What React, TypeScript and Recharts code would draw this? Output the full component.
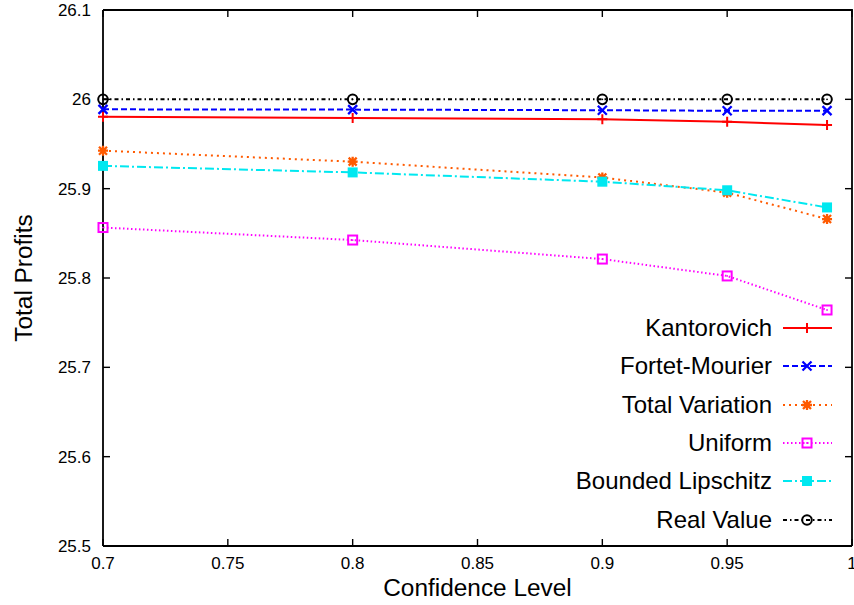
import React from "react";
import { LineChart, Line, XAxis, YAxis, Legend } from "recharts";

const levels = [0.7, 0.8, 0.9, 0.95, 0.99];
const kantorovich = [25.9805, 25.9792, 25.9776, 25.9748, 25.9712];
const fortetMourier = [25.9888, 25.9885, 25.9878, 25.9872, 25.9873];
const totalVariation = [25.9425, 25.9302, 25.9125, 25.8955, 25.8660];
const uniform = [25.8565, 25.8425, 25.8212, 25.8023, 25.7642];
const boundedLipschitz = [25.9255, 25.9182, 25.9078, 25.8982, 25.8790];
const realValue = [26.0, 26.0, 26.0, 26.0, 26.0];

const xTicks = [0.7, 0.75, 0.8, 0.85, 0.9, 0.95, 1];
const yTicks = [25.5, 25.6, 25.7, 25.8, 25.9, 26.0, 26.1];
const xDomain = [0.7, 1];
const yDomain = [25.5, 26.1];

// chart box
const W = 854;
const H = 605;
const Y_AXIS_W = 103;
const X_AXIS_H = 59;
const MARGIN = { top: 10, right: 2, bottom: 0, left: 0 };
const PLOT = {
  left: MARGIN.left + Y_AXIS_W,
  top: MARGIN.top,
  right: W - MARGIN.right,
  bottom: H - MARGIN.bottom - X_AXIS_H,
};
const TICK = 7;

type Kind = "plus" | "cross" | "star" | "box" | "filled" | "circle";

const SERIES: { key: string; name: string; color: string; dash?: string; kind: Kind }[] = [
  { key: "kant", name: "Kantorovich", color: "#ff0000", kind: "plus" },
  { key: "fm", name: "Fortet-Mourier", color: "#0000ff", dash: "6 3", kind: "cross" },
  { key: "tv", name: "Total Variation", color: "#ff5a00", dash: "2 4", kind: "star" },
  { key: "uni", name: "Uniform", color: "#ff00ff", dash: "1.5 2.5", kind: "box" },
  { key: "bl", name: "Bounded Lipschitz", color: "#00e8f0", dash: "9 3 2 3", kind: "filled" },
  { key: "real", name: "Real Value", color: "#000000", dash: "4 3 1.5 3", kind: "circle" },
];

const data = levels.map((x, i) => ({
  x,
  kant: kantorovich[i],
  fm: fortetMourier[i],
  tv: totalVariation[i],
  uni: uniform[i],
  bl: boundedLipschitz[i],
  real: realValue[i],
}));

function Marker({ kind, cx, cy, color }: { kind: Kind; cx: number; cy: number; color: string }) {
  const s = 5;
  const sw = 2;
  switch (kind) {
    case "plus":
      return <path d={`M${cx - s},${cy}H${cx + s}M${cx},${cy - s}V${cy + s}`} stroke={color} strokeWidth={sw} fill="none" />;
    case "cross":
      return (
        <path
          d={`M${cx - 4.5},${cy - 4.5}L${cx + 4.5},${cy + 4.5}M${cx + 4.5},${cy - 4.5}L${cx - 4.5},${cy + 4.5}`}
          stroke={color}
          strokeWidth={sw + 0.3}
          fill="none"
        />
      );
    case "star":
      return (
        <path
          d={`M${cx - s},${cy}H${cx + s}M${cx},${cy - s}V${cy + s}M${cx - 4},${cy - 4}L${cx + 4},${cy + 4}M${cx + 4},${cy - 4}L${cx - 4},${cy + 4}`}
          stroke={color}
          strokeWidth={sw + 0.3}
          fill="none"
        />
      );
    case "box":
      return (
        <g>
          <rect x={cx - 4.5} y={cy - 4.5} width={9} height={9} stroke={color} strokeWidth={sw} fill="none" />
          <circle cx={cx} cy={cy} r={0.9} fill={color} />
        </g>
      );
    case "filled":
      return <rect x={cx - 5} y={cy - 5} width={10} height={10} fill={color} />;
    case "circle":
      return (
        <g>
          <circle cx={cx} cy={cy} r={4.8} stroke={color} strokeWidth={sw} fill="none" />
          <circle cx={cx} cy={cy} r={0.9} fill={color} />
        </g>
      );
  }
  return null;
}

const fmt = (v: number) => String(parseFloat(v.toFixed(2)));

function LeftTick({ x = 0, y = 0, payload }: any) {
  return (
    <g>
      <line x1={x} y1={y} x2={x + TICK} y2={y} stroke="#000" strokeWidth={1.4} />
      <text x={x - 12} y={y + 6} textAnchor="end" fontSize={17} fill="#000">
        {fmt(payload?.value)}
      </text>
    </g>
  );
}

function BottomTick({ x = 0, y = 0, payload }: any) {
  return (
    <g>
      <line x1={x} y1={y} x2={x} y2={y - TICK} stroke="#000" strokeWidth={1.4} />
      <text x={x} y={y + 23} textAnchor="middle" fontSize={17} fill="#000">
        {fmt(payload?.value)}
      </text>
    </g>
  );
}

// top and right sides of the gnuplot-style box, with mirrored tick marks
function FrameOverlay() {
  const sx = (v: number) => PLOT.left + ((v - xDomain[0]) / (xDomain[1] - xDomain[0])) * (PLOT.right - PLOT.left);
  const sy = (v: number) => PLOT.bottom - ((v - yDomain[0]) / (yDomain[1] - yDomain[0])) * (PLOT.bottom - PLOT.top);
  return (
    <svg width={W} height={H} style={{ position: "absolute", left: 0, top: 0, pointerEvents: "none" }}>
      <path
        d={`M${PLOT.left},${PLOT.top}H${PLOT.right}V${PLOT.bottom}`}
        stroke="#000"
        strokeWidth={1.8}
        fill="none"
      />
      {xTicks.map((t) => (
        <line key={`x${t}`} x1={sx(t)} y1={PLOT.top} x2={sx(t)} y2={PLOT.top + TICK} stroke="#000" strokeWidth={1.4} />
      ))}
      {yTicks.map((t) => (
        <line key={`y${t}`} x1={PLOT.right} y1={sy(t)} x2={PLOT.right - TICK} y2={sy(t)} stroke="#000" strokeWidth={1.4} />
      ))}
    </svg>
  );
}

function LegendBox() {
  return (
    <div style={{ width: 354 }}>
      {SERIES.map((s) => (
        <div key={s.key} style={{ display: "flex", alignItems: "center", height: 38.3 }}>
          <div style={{ width: 272, textAlign: "right", fontSize: 24, color: "#000", lineHeight: "38px", whiteSpace: "nowrap" }}>
            {s.name}
          </div>
          <svg width={60} height={20} style={{ marginLeft: 11 }}>
            <line x1={0} y1={10} x2={49} y2={10} stroke={s.color} strokeWidth={2} strokeDasharray={s.dash} />
            <Marker kind={s.kind} cx={24} cy={10} color={s.color} />
          </svg>
        </div>
      ))}
    </div>
  );
}

const axisLine = { stroke: "#000", strokeWidth: 1.8 };

export default function App() {
  return (
    <div
      style={{
        position: "absolute",
        left: 0,
        top: 0,
        width: W,
        height: H,
        background: "#fff",
        fontFamily: "'Liberation Sans', Arial, sans-serif",
      }}
    >
      <LineChart width={W} height={H} data={data} margin={MARGIN}>
        <XAxis
          dataKey="x"
          type="number"
          domain={xDomain}
          ticks={xTicks}
          height={X_AXIS_H}
          tickSize={0}
          tickMargin={0}
          tick={<BottomTick />}
          axisLine={axisLine}
          interval={0}
          label={({ viewBox }: any) => (
            <text x={viewBox.x + viewBox.width / 2} y={viewBox.y + 50} textAnchor="middle" fontSize={24.4} fill="#000">
              Confidence Level
            </text>
          )}
        />
        <YAxis
          type="number"
          domain={yDomain}
          ticks={yTicks}
          width={Y_AXIS_W}
          tickSize={0}
          tickMargin={0}
          tick={<LeftTick />}
          axisLine={axisLine}
          interval={0}
          label={({ viewBox }: any) => {
            const cy = viewBox.y + viewBox.height / 2;
            return (
              <text x={32} y={cy} transform={`rotate(-90 32 ${cy})`} textAnchor="middle" fontSize={24.4} fill="#000">
                Total Profits
              </text>
            );
          }}
        />
        <Legend
          layout="vertical"
          align="center"
          verticalAlign="middle"
          wrapperStyle={{ left: 500, top: 309, width: 354 }}
          content={() => <LegendBox />}
        />
        {SERIES.map((s) => (
          <Line
            key={s.key}
            type="linear"
            dataKey={s.key}
            name={s.name}
            stroke={s.color}
            strokeWidth={2}
            strokeDasharray={s.dash}
            isAnimationActive={false}
            dot={(p: any) => <Marker key={`${s.key}-${p.index}`} kind={s.kind} cx={p.cx} cy={p.cy} color={s.color} />}
            activeDot={false}
          />
        ))}
      </LineChart>
      <FrameOverlay />
    </div>
  );
}
